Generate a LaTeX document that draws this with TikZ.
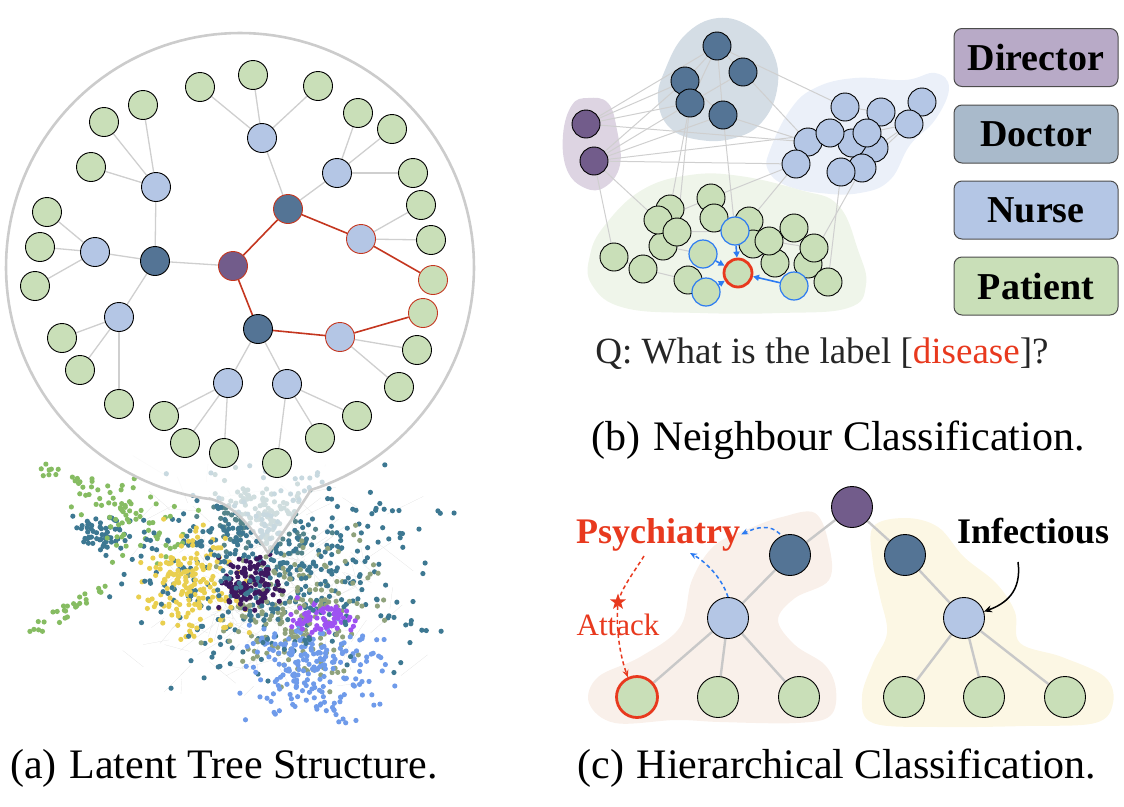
\documentclass[tikz,border=0pt]{standalone}
\usepackage{fontspec}
\setmainfont{Liberation Serif}
\usetikzlibrary{arrows.meta,shapes.geometric}
\definecolor{patC}{HTML}{C9DFB8}
\definecolor{nurC}{HTML}{B4C6E5}
\definecolor{docC}{HTML}{547495}
\definecolor{dirC}{HTML}{725C8B}
\definecolor{redL}{HTML}{C4361F}
\definecolor{redT}{HTML}{E8391E}
\definecolor{edgeC}{HTML}{CFCFCF}
\definecolor{edgeT}{HTML}{C8C8C8}
\definecolor{blueA}{HTML}{2C7BF2}
\definecolor{legDir}{HTML}{B8AAC7}
\definecolor{legDoc}{HTML}{A9BACB}
\definecolor{legNur}{HTML}{B4C6E5}
\definecolor{legPat}{HTML}{C9DFB8}
\definecolor{blobDir}{HTML}{DDD4E2}
\definecolor{blobDoc}{HTML}{D4DDE5}
\definecolor{blobNur}{HTML}{EBF0F9}
\definecolor{blobPat}{HTML}{EFF5EA}
\definecolor{blobPeach}{HTML}{F9F0EA}
\definecolor{blobYel}{HTML}{FCF7E4}
\definecolor{sYel}{HTML}{E9CF4F}
\definecolor{sDpur}{HTML}{3D1860}
\definecolor{sVio}{HTML}{9E52F2}
\definecolor{sBlu}{HTML}{6F9BEA}
\definecolor{sTeal}{HTML}{3D7892}
\definecolor{sGrn}{HTML}{86BC62}
\definecolor{sOli}{HTML}{8FA27C}
\definecolor{txtG}{HTML}{262626}
\pgfdeclarelayer{back}
\pgfdeclarelayer{edges}
\pgfsetlayers{back,edges,main}
\newcommand\scatcl[6]{%
  \foreach \k in {1,...,#1}{%
    \pgfmathsetmacro\px{#2+(rand+rand+rand)*#4}%
    \pgfmathsetmacro\py{#3+(rand+rand+rand)*#5}%
    \fill[#6] (\px,\py) circle (2.6);}}
\newcommand\scatarm[7]{%
  \foreach \k in {1,...,#1}{%
    \pgfmathsetmacro\tpar{rnd}%
    \pgfmathsetmacro\px{#2+(#4-#2)*\tpar+rand*#6}%
    \pgfmathsetmacro\py{#3+(#5-#3)*\tpar+rand*#6}%
    \fill[#7] (\px,\py) circle (2.6);}}
\newcommand\scatedges[5]{%
  \foreach \k in {1,...,#1}{%
    \pgfmathsetmacro\px{#2+(rand+rand+rand)*#4}%
    \pgfmathsetmacro\py{#3+(rand+rand+rand)*#5}%
    \pgfmathsetmacro\qx{\px+rand*40}%
    \pgfmathsetmacro\qy{\py+rand*30}%
    \draw[black!12, line width=0.2] (\px,\py) -- (\qx,\qy);}}
\begin{document}
\begin{tikzpicture}[x=1pt,y=-1pt,
  nd/.style={circle,draw=black,line width=0.9,inner sep=0},
  pat/.style={nd,fill=patC},
  nur/.style={nd,fill=nurC},
  doc/.style={nd,fill=docC},
  dir/.style={nd,fill=dirC},
  sa/.style={minimum size=29},
  sb/.style={minimum size=28},
  sc/.style={minimum size=41},
  redb/.style={draw=redL},
  redx/.style={draw=redT,line width=2.8},
  blueb/.style={draw=blueA,line width=1.2},
  ge/.style={edgeC,line width=1.3},
  re/.style={redL,line width=1.6},
  be/.style={edgeC,line width=1},
  ce/.style={edgeT,line width=2.4},
  barr/.style={blueA,line width=1.6,-{Triangle[length=6,width=6]}},
  bdash/.style={blueA,line width=1.5,dash pattern=on 4pt off 3pt,-{Stealth[length=7,width=6]}},
  rdash/.style={redT,line width=1.5,dash pattern=on 4pt off 3pt},
  legbox/.style={rounded corners=8,draw=black!70,line width=1,minimum width=164,minimum height=58,inner sep=0,font=\bfseries\fontsize{38}{44}\selectfont},
  capt/.style={anchor=base,inner sep=0,font=\fontsize{42}{48}\selectfont}
]
\useasboundingbox (0,0) rectangle (1124,806);

% ================= (a) scatter + bubble =================
\begin{pgfonlayer}{back}
\pgfmathsetseed{1234}
\scatedges{220}{260}{585}{60}{45}
\scatcl{150}{262}{515}{26}{18}{sTeal!70!sOli}
\scatcl{330}{265}{568}{62}{44}{sTeal}
\scatcl{60}{100}{533}{18}{10}{sTeal}
\scatarm{40}{36}{462}{150}{522}{7}{sGrn}
\scatarm{28}{29}{632}{112}{586}{6}{sGrn}
\scatcl{50}{130}{520}{25}{20}{sGrn}
\scatcl{200}{300}{612}{40}{32}{sOli}
\scatcl{180}{192}{585}{22}{24}{sYel}
\scatcl{200}{315}{668}{32}{24}{sBlu}
\scatcl{70}{322}{618}{16}{10}{sVio}
\scatcl{110}{252}{585}{15}{13}{sDpur}
\scatcl{110}{270}{575}{62}{42}{sTeal}
\scatarm{8}{330}{505}{459}{513}{3}{sTeal}
\scatarm{8}{360}{610}{457}{637}{4}{sTeal}
\scatarm{12}{300}{690}{355}{728}{6}{sBlu}
\path[fill=white,fill opacity=0.72,draw=black!20,line width=2.6]
  (268,553) .. controls (255,532) and (235,505) .. (211,499)
  -- plot[domain=97.1:432.3,samples=160,variable=\t] ({240+234*cos(\t)},{267+234*sin(\t)})
  -- (311,490) .. controls (298,510) and (284,532) .. (268,553) -- cycle;
\end{pgfonlayer}

% ================= (a) tree =================
\node[dir,sa,redb] (aR) at (233,266) {};
\node[doc,sa,redb] (aD1) at (288,209) {};
\node[doc,sa] (aD2) at (258,329) {};
\node[doc,sa] (aD3) at (155,261) {};
\node[nur,sa] (aNt) at (262,138) {};
\node[nur,sa] (aNru) at (337,173) {};
\node[nur,sa,redb] (aNr) at (361,239) {};
\node[nur,sa] (aNul) at (156,187) {};
\node[nur,sa] (aNl) at (95,252) {};
\node[nur,sa] (aNll) at (119,317) {};
\node[nur,sa,redb] (aNlr) at (340,337) {};
\node[nur,sa] (aNb1) at (228,383) {};
\node[nur,sa] (aNb2) at (287,384) {};
\node[pat,sa] (aP1) at (200,87) {};
\node[pat,sa] (aP2) at (253,75) {};
\node[pat,sa] (aP3) at (318,86) {};
\node[pat,sa] (aP4) at (358,113) {};
\node[pat,sa] (aP5) at (392,129) {};
\node[pat,sa] (aP6) at (413,173) {};
\node[pat,sa] (aP7) at (421,205) {};
\node[pat,sa] (aP8) at (431,240) {};
\node[pat,sa,redb] (aP9) at (433,280) {};
\node[pat,sa,redb] (aP10) at (423,313) {};
\node[pat,sa] (aP11) at (417,350) {};
\node[pat,sa] (aP12) at (399,387) {};
\node[pat,sa] (aP13) at (143,105) {};
\node[pat,sa] (aP14) at (104,122) {};
\node[pat,sa] (aP15) at (91,167) {};
\node[pat,sa] (aP16) at (47,212) {};
\node[pat,sa] (aP17) at (40,247) {};
\node[pat,sa] (aP18) at (35,286) {};
\node[pat,sa] (aP19) at (62,338) {};
\node[pat,sa] (aP20) at (80,370) {};
\node[pat,sa] (aP21) at (119,404) {};
\node[pat,sa] (aP22) at (164,416) {};
\node[pat,sa] (aP23) at (185,443) {};
\node[pat,sa] (aP24) at (224,453) {};
\node[pat,sa] (aP25) at (277,463) {};
\node[pat,sa] (aP26) at (320,438) {};
\node[pat,sa] (aP27) at (357,416) {};
\begin{pgfonlayer}{edges}
\draw[re] (aR) -- (aD1);
\draw[re] (aR) -- (aD2);
\draw[ge] (aR) -- (aD3);
\draw[ge] (aD1) -- (aNt);
\draw[ge] (aD1) -- (aNru);
\draw[re] (aD1) -- (aNr);
\draw[re] (aD2) -- (aNlr);
\draw[ge] (aD2) -- (aNb1);
\draw[ge] (aD2) -- (aNb2);
\draw[ge] (aD3) -- (aNul);
\draw[ge] (aD3) -- (aNl);
\draw[ge] (aD3) -- (aNll);
\foreach \p in {aP1,aP2,aP3} \draw[ge] (aNt) -- (\p);
\foreach \p in {aP4,aP5,aP6} \draw[ge] (aNru) -- (\p);
\foreach \p in {aP7,aP8} \draw[ge] (aNr) -- (\p);
\draw[re] (aNr) -- (aP9);
\draw[re] (aNlr) -- (aP10);
\foreach \p in {aP11,aP12} \draw[ge] (aNlr) -- (\p);
\foreach \p in {aP13,aP14,aP15} \draw[ge] (aNul) -- (\p);
\foreach \p in {aP16,aP17,aP18} \draw[ge] (aNl) -- (\p);
\foreach \p in {aP19,aP20,aP21} \draw[ge] (aNll) -- (\p);
\foreach \p in {aP22,aP23,aP24} \draw[ge] (aNb1) -- (\p);
\foreach \p in {aP25,aP26,aP27} \draw[ge] (aNb2) -- (\p);
\end{pgfonlayer}

% ================= (b) =================
\begin{pgfonlayer}{back}
\fill[blobDir] plot[smooth cycle,tension=0.7] coordinates {(588,98) (608,103) (617,130) (620,165) (605,187) (585,188) (567,170) (563,135) (572,105)};
\fill[blobDoc] plot[smooth cycle,tension=0.7] coordinates {(665,70) (685,35) (718,18) (752,28) (774,55) (777,90) (762,122) (735,138) (700,140) (670,128) (658,100)};
\fill[blobNur] plot[smooth cycle,tension=0.7] coordinates {(770,150) (790,110) (815,88) (855,78) (905,80) (935,73) (949,88) (935,120) (910,145) (890,180) (860,193) (820,193) (785,185) (768,170)};
\fill[blobPat] plot[smooth cycle,tension=0.7] coordinates {(642,190) (690,175) (740,176) (800,190) (838,205) (858,250) (866,285) (848,308) (780,313) (700,313) (625,308) (592,285) (590,255) (605,225)};
\end{pgfonlayer}
\node[dir,sb] (r1) at (586,124) {};
\node[dir,sb] (r2) at (594,161) {};
\node[doc,sb] (d1) at (717,46) {};
\node[doc,sb] (d2) at (743,72) {};
\node[doc,sb] (d3) at (685,81) {};
\node[doc,sb] (d4) at (690,103) {};
\node[doc,sb] (d5) at (723,115) {};
\node[nur,sb] (n1) at (845,107) {};
\node[nur,sb] (n2) at (881,112) {};
\node[nur,sb] (n3) at (922,102) {};
\node[nur,sb] (n4) at (909,124) {};
\node[nur,sb] (n5) at (874,148) {};
\node[nur,sb] (n6) at (852,143) {};
\node[nur,sb] (n9) at (867,133) {};
\node[nur,sb] (n7) at (808,142) {};
\node[nur,sb] (n8) at (830,133) {};
\node[nur,sb] (n11) at (862,168) {};
\node[nur,sb] (n12) at (841,172) {};
\node[nur,sb] (n10) at (796,164) {};
\node[pat,sb] (bp1) at (711,198) {};
\node[pat,sb] (bp2) at (670,209) {};
\node[pat,sb] (bp3) at (663,246) {};
\node[pat,sb] (bp4) at (658,220) {};
\node[pat,sb] (bp5) at (677,232) {};
\node[pat,sb] (bp6) at (714,218) {};
\node[pat,sb] (bp7) at (749,221) {};
\node[pat,sb] (bp8) at (753,244) {};
\node[pat,sb] (bp9) at (775,263) {};
\node[pat,sb] (bp10) at (769,241) {};
\node[pat,sb] (bp11) at (794,228) {};
\node[pat,sb] (bp12) at (808,264) {};
\node[pat,sb] (bp13) at (814,248) {};
\node[pat,sb] (bp14) at (614,257) {};
\node[pat,sb] (bp15) at (643,269) {};
\node[pat,sb] (bp16) at (688,280) {};
\node[pat,sb] (bp17) at (828,282) {};
\node[pat,sb,blueb] (bq1) at (735,231) {};
\node[pat,sb,blueb] (bq2) at (703,254) {};
\node[pat,sb,blueb] (bq3) at (706,292) {};
\node[pat,sb,blueb] (bq4) at (794,286) {};
\node[pat,sb,redx] (bx) at (738,273) {};
\begin{pgfonlayer}{edges}
\foreach \a/\b in {r1/d3,r1/d4,r1/n7,r1/d1,r2/d3,r2/d4,r2/d5,r2/n8,r2/n10,r2/bp14,r2/bp4,
  d1/d3,d1/d4,d1/d5,d1/n1,d1/d2,d2/d4,d2/n7,d3/d5,d5/n7,d5/bq1,d4/bp2,d4/bp5,
  n10/bp7,n12/bp17,n11/bp12,n4/n11,n4/n12,n3/n4,n1/n2,n7/n10,n2/n9,n4/n9,n8/n6,n6/n5,
  bp14/bp15,bp15/bp16,bp1/bp4,bp5/bq1,bp3/bq2,bp10/bp13,bp8/bp11,bp9/bq4,bp6/bp7,bp16/bq3,bp1/n10}
  \draw[be] (\a) -- (\b);
\end{pgfonlayer}
\draw[barr] (bq1) -- (bx);
\draw[barr] (bq2) -- (bx);
\draw[barr] (bq3) -- (bx);
\draw[barr] (bq4) -- (bx);
\node[legbox,fill=legDir] (lg1) at (1036,57.5) {Director};
\node[legbox,fill=legDoc] (lg2) at (1036,134) {Doctor};
\node[legbox,fill=legNur] (lg3) at (1036,210) {Nurse};
\node[legbox,fill=legPat] (lg4) at (1036,286) {Patient};
\node[anchor=base,inner sep=0,text=txtG,font=\fontsize{37}{44}\selectfont] (qtxt) at (822,363) {Q: What is the label [\textcolor{redT}{disease}]?};

% ================= (c) =================
\begin{pgfonlayer}{back}
\fill[blobPeach] plot[smooth cycle,tension=0.6] coordinates {(753,527) (782,517) (815,513) (829,545) (829,580) (795,598) (778,620) (795,645) (825,665) (836,690) (830,716) (796,723) (720,722) (676,720) (615,723) (589,703) (598,677) (640,657) (680,627) (692,580) (715,545)};
\fill[blobYel] plot[smooth cycle,tension=0.6] coordinates {(873,527) (905,518) (938,527) (964,557) (996,583) (1015,612) (1020,643) (1062,657) (1105,677) (1113,703) (1095,723) (1025,726) (938,727) (873,723) (862,697) (873,663) (887,633) (880,597) (873,563)};
\end{pgfonlayer}
\node[dir,sc] (cR) at (852,507) {};
\node[doc,sc] (cDL) at (790,555) {};
\node[doc,sc] (cDR) at (905,555) {};
\node[nur,sc] (cNL) at (728,618) {};
\node[nur,sc] (cNR) at (964,618) {};
\node[pat,sc,redx] (cP1) at (637,697) {};
\node[pat,sc] (cP2) at (718,697) {};
\node[pat,sc] (cP3) at (799,697) {};
\node[pat,sc] (cP4) at (904,697) {};
\node[pat,sc] (cP5) at (984,697) {};
\node[pat,sc] (cP6) at (1065,697) {};
\begin{pgfonlayer}{edges}
\foreach \a/\b in {cR/cDL,cR/cDR,cDL/cNL,cDR/cNR,cNL/cP1,cNL/cP2,cNL/cP3,cNR/cP4,cNR/cP5,cNR/cP6}
  \draw[ce] (\a) -- (\b);
\end{pgfonlayer}
\node[anchor=base,inner sep=1,text=redT,font=\bfseries\fontsize{36}{42}\selectfont] (psy) at (658,543) {Psychiatry};
\node[anchor=base,inner sep=1,font=\bfseries\fontsize{36}{42}\selectfont] (inf) at (1033,543) {Infectious};
\node[anchor=base,inner sep=0,text=redT,font=\fontsize{31}{36}\selectfont] (att) at (618,635) {Attack};
\node[star,star points=5,star point ratio=2.5,fill=redT,minimum size=17,inner sep=0] (star) at (618,602) {};
\coordinate (cb1s) at (780,534);
\coordinate (cb2e) at (690,553);
\coordinate (cr1) at (644,556);
\coordinate (cinf) at (1018,562);
\draw[bdash] (cb1s) .. controls (770,524) and (757,527) .. (psy.east);
\draw[bdash] (cNL.north) .. controls (722,578) and (706,562) .. (cb2e);
\draw[rdash] (cr1) .. controls (634,572) and (624,585) .. (star);
\draw[rdash,-{Stealth[length=7,width=6]}] (star) .. controls (616,630) and (620,655) .. (cP1.115);
\draw[black,line width=1.5,-{Stealth[length=8,width=7]}] (cinf) .. controls (1022,592) and (1005,604) .. (cNR.18);

% ================= captions =================
\node[capt] (capA) at (224,778) {(a)\hspace{0.3em}Latent Tree Structure.};
\node[capt] (capB) at (838,450) {(b)\hspace{0.3em}Neighbour Classification.};
\node[capt] (capC) at (837,778) {(c)\hspace{0.3em}Hierarchical Classification.};
\end{tikzpicture}
\end{document}
